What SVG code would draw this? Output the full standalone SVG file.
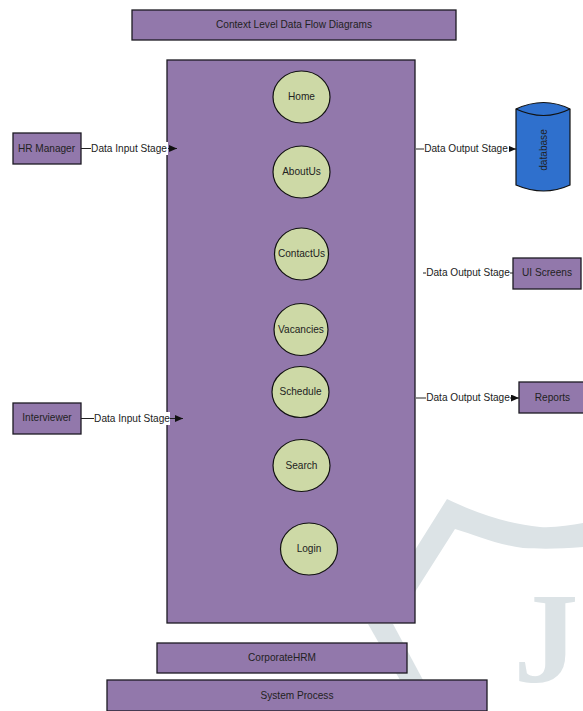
<svg xmlns="http://www.w3.org/2000/svg" width="583" height="711" viewBox="0 0 583 711">
<style>
.box{fill:#9278ab;stroke:#1c1a22;stroke-width:1.3}
.el{fill:#cdd9a6;stroke:#111;stroke-width:1.2}
text{font-family:"Liberation Sans",Arial,sans-serif;font-size:10.1px;fill:#222;text-anchor:middle}
.wm{fill:#dce3e6}
.ln{stroke:#222;stroke-width:1;fill:none}
.lb{fill:#fff}
</style>
<defs><marker id="a" markerWidth="8" markerHeight="7" refX="8" refY="3.500" orient="auto" markerUnits="userSpaceOnUse"><path d="M0 0L8 3.500L0 7z" fill="#111"/></marker></defs>
<g id="watermark">
<path class="wm" d="M447 499C480 515 510 524 540 527C555 528 570 525 583 523V547C560 549 540 549 523 548C495 544 475 535 455 529L415 592V550Z"/>
<path class="wm" d="M368 624H393L423 680H400Z"/>
<text x="546" y="682" style="font-family:'Liberation Serif',serif;font-size:130px;font-weight:700;fill:#dce3e6">J</text>
</g>
<g id="title"><rect class="box" x="132" y="10" width="324" height="30"/><text x="294" y="28">Context Level Data Flow Diagrams</text></g>
<g id="process"><rect class="box" x="167" y="60" width="248" height="563"/></g>
<g id="connectors">
<path class="ln" d="M81 148.500H177" marker-end="url(#a)"/>
<path class="ln" d="M81 418.500H183" marker-end="url(#a)"/>
<path class="ln" d="M416 149H516" marker-end="url(#a)"/>
<path class="ln" d="M423 273H513"/>
<path class="ln" d="M416 398H519" marker-end="url(#a)"/>
<rect class="lb" x="91" y="142" width="77" height="13"/>
<text x="129" y="152">Data Input Stage</text>
<rect class="lb" x="94" y="412" width="76" height="13"/>
<text x="132" y="422">Data Input Stage</text>
<rect class="lb" x="424" y="142" width="85" height="13"/>
<text x="466" y="152">Data Output Stage</text>
<rect class="lb" x="426" y="266" width="84" height="13"/>
<text x="468" y="276">Data Output Stage</text>
<rect class="lb" x="426" y="391" width="84" height="13"/>
<text x="468" y="401">Data Output Stage</text>
</g>
<g id="hr-manager"><rect class="box" x="13" y="133" width="68" height="31"/><text x="46.500" y="152">HR Manager</text></g>
<g id="interviewer"><rect class="box" x="13" y="403" width="68" height="31"/><text x="47" y="421">Interviewer</text></g>
<g id="database"><path d="M516 109Q544 96 570 109V185Q544 197 516 185Z" fill="#2f70cd" stroke="#111" stroke-width="1.2"/><path d="M516 109Q544 122 570 109" fill="none" stroke="#111" stroke-width="1.2"/><text transform="translate(547 150) rotate(-90)">database</text></g>
<g id="ui-screens"><rect class="box" x="513" y="258" width="68" height="31"/><text x="547" y="276">UI Screens</text></g>
<g id="reports"><rect class="box" x="519" y="382" width="66" height="31"/><text x="552.500" y="401">Reports</text></g>
<g id="home"><ellipse class="el" cx="301.500" cy="97" rx="28.500" ry="26"/><text x="301.500" y="100">Home</text></g>
<g id="aboutus"><ellipse class="el" cx="301.500" cy="172" rx="28.500" ry="26"/><text x="301.500" y="175">AboutUs</text></g>
<g id="contactus"><ellipse class="el" cx="301.500" cy="254" rx="27" ry="26"/><text x="301.500" y="257">ContactUs</text></g>
<g id="vacancies"><ellipse class="el" cx="301" cy="329.500" rx="27" ry="26"/><text x="301" y="333">Vacancies</text></g>
<g id="schedule"><ellipse class="el" cx="300.500" cy="392" rx="28.500" ry="25.500"/><text x="300.500" y="395">Schedule</text></g>
<g id="search"><ellipse class="el" cx="301.500" cy="465.500" rx="28.500" ry="26"/><text x="301.500" y="469">Search</text></g>
<g id="login"><ellipse class="el" cx="309" cy="549" rx="28.500" ry="26"/><text x="309" y="552">Login</text></g>
<g id="corporatehrm"><rect class="box" x="157" y="643" width="250" height="30"/><text x="282" y="661">CorporateHRM</text></g>
<g id="system-process"><rect class="box" x="107" y="680" width="380" height="31"/><text x="297" y="699">System Process</text></g>
</svg>
